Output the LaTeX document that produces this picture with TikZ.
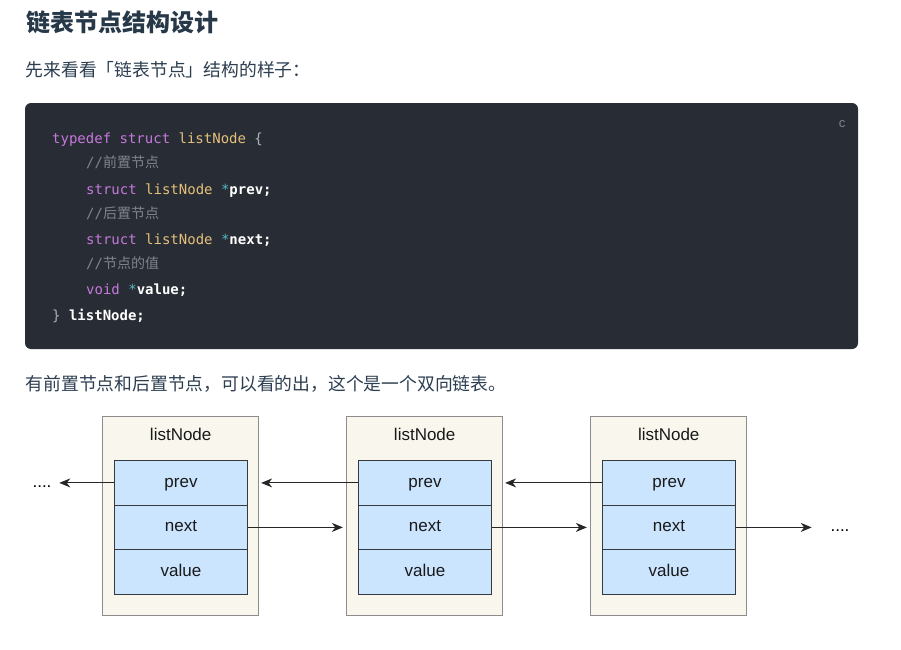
\documentclass[tikz,border=0pt]{standalone}
\usepackage{fontspec}
\setmainfont{Liberation Sans}
\newfontfamily\cjk{Noto Sans CJK SC}
\newfontfamily\codefont{DejaVu Sans Mono}
\usepackage{tikz}
\usetikzlibrary{matrix,arrows.meta}

\definecolor{headcol}{HTML}{273849}
\definecolor{textcol}{HTML}{2C3E50}
\definecolor{codebg}{HTML}{282C34}
\definecolor{kwcol}{HTML}{C678DD}
\definecolor{typecol}{HTML}{E5C07B}
\definecolor{starcol}{HTML}{56B6C2}
\definecolor{commcol}{HTML}{7F848E}
\definecolor{plaincol}{HTML}{ABB2BF}
\definecolor{nodefill}{HTML}{F9F7ED}
\definecolor{nodeline}{HTML}{8C8C8C}
\definecolor{cellfill}{HTML}{CCE5FF}
\definecolor{cellline}{HTML}{36393D}

\newcommand{\ckw}[1]{\textcolor{kwcol}{#1}}
\newcommand{\cty}[1]{\textcolor{typecol}{#1}}
\newcommand{\cstar}{\textcolor{starcol}{*}}
\newcommand{\cid}[1]{\textcolor{white}{\bfseries #1}}
\newcommand{\ccmt}[1]{\textcolor{commcol}{//{\cjk #1}}}

\tikzset{
    bodytext/.style={anchor=west, inner sep=0pt, text=textcol, font=\cjk\fontsize{17.8}{21}\selectfont},
    codeline/.style={anchor=base west, inner sep=0pt, text=plaincol, font=\codefont\fontsize{14}{16}\selectfont},
    listbox/.style={draw=nodeline, fill=nodefill, line width=0.9pt, minimum width=156pt, minimum height=199pt},
    headtext/.style={text=black!90, font=\fontsize{17}{20}\selectfont},
    cell/.style={draw=cellline, fill=cellfill, line width=0.9pt, minimum width=133.4pt, minimum height=44.5pt,
        inner sep=0pt, text height=12.5pt, text depth=3.5pt, text=black!90, font=\fontsize{17}{20}\selectfont},
    link/.style={-{Stealth[length=11pt,width=9pt,inset=3.5pt]}, line width=1pt, draw=black!85}
}

\begin{document}
\begin{tikzpicture}[x=1pt,y=-1pt]
    \useasboundingbox[fill=white] (0,0) rectangle (901,649);

    \node (title) [bodytext, text=headcol, font=\cjk\bfseries\fontsize{24}{28}\selectfont] at (26,22.5) {链表节点结构设计};
    \node (intro) [bodytext] at (25.5,69.5) {先来看看「链表节点」结构的样子：};

    \fill[codebg, rounded corners=6pt] (25,103) rectangle (858,349);
    \node (lang) [text=commcol, font=\fontsize{13}{15}\selectfont] at (842,124) {c};
    \node (code1) [codeline] at (52,143) {\ckw{typedef} \ckw{struct} \cty{listNode} \{};
    \node (code2) [codeline] at (86,167) {\ccmt{前置节点}};
    \node (code3) [codeline] at (86,194) {\ckw{struct} \cty{listNode} \cstar\cid{prev;}};
    \node (code4) [codeline] at (86,218) {\ccmt{后置节点}};
    \node (code5) [codeline] at (86,244) {\ckw{struct} \cty{listNode} \cstar\cid{next;}};
    \node (code6) [codeline] at (86,268) {\ccmt{节点的值}};
    \node (code7) [codeline] at (86,294) {\ckw{void} \cstar\cid{value;}};
    \node (code8) [codeline] at (52,320) {\} \cid{listNode;}};

    \node (outro) [bodytext] at (25.5,383.5) {有前置节点和后置节点，可以看的出，这个是一个双向链表。};

    \node (box1) [listbox] at (180.7,516) {};
    \node (box2) [listbox] at (424.7,516) {};
    \node (box3) [listbox] at (668.7,516) {};
    \node (head1) [headtext] at (180.7,434) {listNode};
    \node (head2) [headtext] at (424.7,434) {listNode};
    \node (head3) [headtext] at (668.7,434) {listNode};

    \matrix (cells1) [matrix of nodes, nodes={cell}, row sep=-0.9pt, inner sep=0pt] at (181,527.4)
    {%
      prev\\
      next\\
      value\\
    };
    \matrix (cells2) [matrix of nodes, nodes={cell}, row sep=-0.9pt, inner sep=0pt] at (425,527.4)
    {%
      prev\\
      next\\
      value\\
    };
    \matrix (cells3) [matrix of nodes, nodes={cell}, row sep=-0.9pt, inner sep=0pt] at (669,527.4)
    {%
      prev\\
      next\\
      value\\
    };

    \node (dotsL) [anchor=base, inner sep=0pt, font=\fontsize{17}{20}\selectfont] at (42,487) {....};
    \node (dotsR) [anchor=base, inner sep=0pt, font=\fontsize{17}{20}\selectfont] at (840,531) {....};
    \coordinate (endL) at (59.3,483.3);
    \coordinate (endR) at (811.7,527.3);

    \draw[link] (cells1-1-1.west) -- (cells1-1-1.west -| endL);
    \draw[link, shorten >=2pt] (cells2-1-1.west) -- (cells2-1-1.west -| box1.east);
    \draw[link, shorten >=2pt] (cells3-1-1.west) -- (cells3-1-1.west -| box2.east);
    \draw[link, shorten >=3.4pt] (cells1-2-1.east) -- (cells1-2-1.east -| box2.west);
    \draw[link, shorten >=3.4pt] (cells2-2-1.east) -- (cells2-2-1.east -| box3.west);
    \draw[link] (cells3-2-1.east) -- (cells3-2-1.east -| endR);
\end{tikzpicture}
\end{document}
